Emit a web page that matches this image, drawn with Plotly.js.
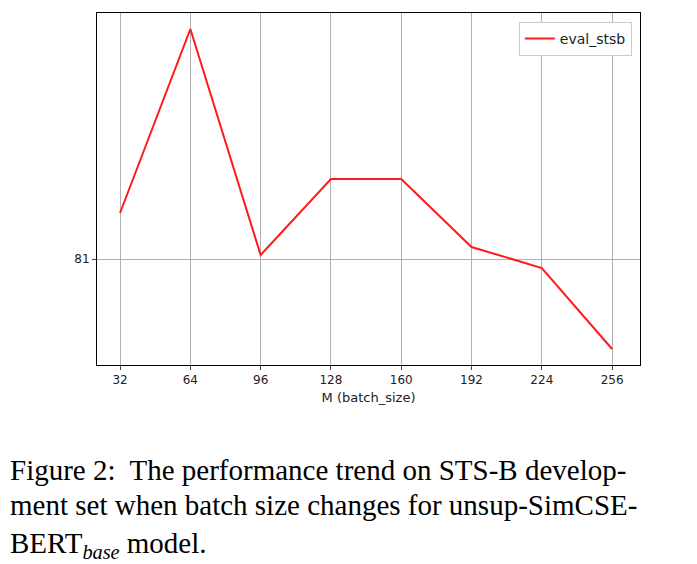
<!DOCTYPE html>
<html><head><meta charset="utf-8">
<script src="https://cdn.plot.ly/plotly-3.0.1.min.js"></script>
<style>body{margin:0;background:#fff}</style>
</head><body>
<div id="chart" style="width:697px;height:564px"></div>
<script>
var batch_size = [32, 64, 96, 128, 160, 192, 224, 256]
var eval_stsb = [81.23, 82.15, 81.02, 81.40, 81.40, 81.06, 80.955, 80.55]

var trace = {
    x: batch_size, y: eval_stsb, name: 'eval_stsb', type: 'scatter', mode: 'lines',
    line: {color: '#ff1a1a', width: 2}
}
var serif = {family: 'Liberation Serif, Times New Roman, serif', size: 29, color: '#000'}
var layout = {
    width: 697, height: 564,
    margin: {l: 97, r: 57, t: 13, b: 199},
    font: {family: 'DejaVu Sans, sans-serif', size: 12, color: '#222'},
    plot_bgcolor: '#fff', paper_bgcolor: '#fff',
    showlegend: true,
    legend: {x: 0.985, y: 0.975, xanchor: 'right', yanchor: 'top', bordercolor: '#ccc', borderwidth: 1,
             font: {size: 14}},
    xaxis: {range: [21.5, 268.7], tickvals: batch_size, showgrid: true, gridcolor: '#b0b0b0', zeroline: false,
            showline: true, mirror: true, linecolor: '#000', ticks: 'outside', ticklen: 4,
            title: {text: 'M (batch_size)', font: {size: 13}, standoff: 6}},
    yaxis: {range: [80.47, 82.23], tickvals: [81], ticktext: ['81'], showgrid: true, gridcolor: '#b0b0b0', zeroline: false,
            showline: true, mirror: true, linecolor: '#000', ticks: 'outside', ticklen: 4},
    annotations: [
        {xref: 'paper', yref: 'paper', x: -0.164, y: -0.298, xanchor: 'left', yanchor: 'middle', showarrow: false, font: serif,
         text: 'Figure 2:  The performance trend on STS-B develop-'},
        {xref: 'paper', yref: 'paper', x: -0.164, y: -0.398, xanchor: 'left', yanchor: 'middle', showarrow: false, font: serif,
         text: 'ment set when batch size changes for unsup-SimCSE-'},
        {xref: 'paper', yref: 'paper', x: -0.164, y: -0.511, xanchor: 'left', yanchor: 'middle', showarrow: false, font: serif,
         text: 'BERT<sub><i>base</i></sub> model.'}
    ]
}
Plotly.newPlot('chart', [trace], layout, {displayModeBar: false})
</script>
</body></html>
